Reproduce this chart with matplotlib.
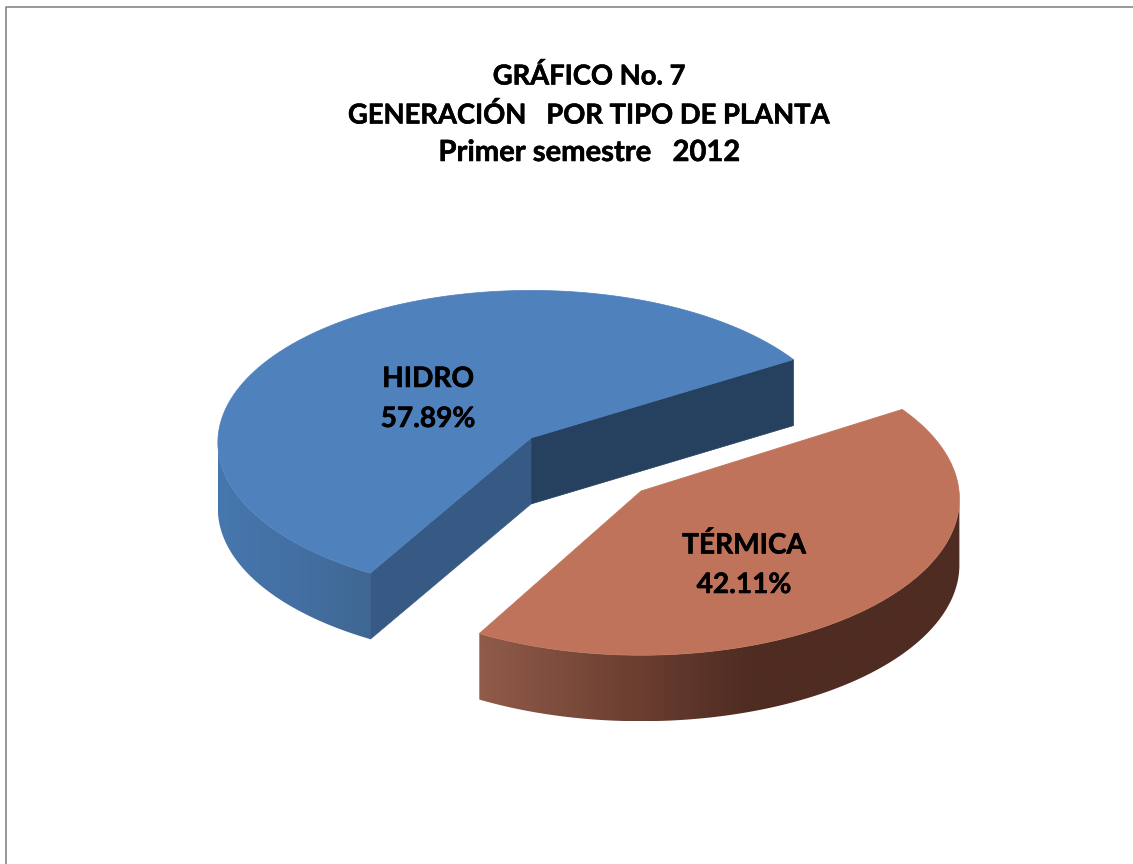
import numpy as np
import matplotlib
matplotlib.use("Agg")
import matplotlib.pyplot as plt
import matplotlib.patheffects as pe
from matplotlib.colors import to_rgb
from matplotlib.patches import Polygon

# datos
categorias = ["HIDRO", "TÉRMICA"]
porcentajes = [57.89, 42.11]
titulo = ["GRÁFICO No. 7", "GENERACIÓN   POR TIPO DE PLANTA", "Primer semestre   2012"]

W, H = 1133, 864
FONT = "Lato"
ALTO = 66
# la perspectiva gira un poco cada porcion
GIRO_AZUL = 31.6
GIRO_ROJO = 32.5


def proyectar(t, cx, cy, a, b, p):
    # elipse con algo de perspectiva: el frente se ve mas grande que el fondo
    u, v = np.cos(t), np.sin(t)
    s = 1 / (1 + p * v)
    return cx + a * u * s, cy - b * v * s


def degradado(ax, xs, ys, stops):
    # pared exterior: imagen con degradado horizontal recortada a la pared
    x0, x1 = xs.min(), xs.max()
    px = np.linspace(x0, x1, 300)
    cols = np.array([to_rgb(s[1]) for s in stops])
    img = np.stack([np.interp(px, [s[0] for s in stops], cols[:, i]) for i in range(3)], axis=1)
    im = ax.imshow(img[None, :, :], extent=(x0, x1, ys.max(), ys.min()), aspect="auto",
                   interpolation="bilinear", zorder=2)
    pol = Polygon(np.c_[xs, ys], transform=ax.transData, fc="none", ec="none")
    ax.add_patch(pol)
    im.set_clip_path(pol)


def porcion(ax, t0, t1, geo, tapa, pared, cara0, cara1):
    cx, cy = geo[0], geo[1]
    t = np.radians(np.linspace(t0, t1, 400))
    x, y = proyectar(t, *geo)

    # la pared va de un punto mas ancho de la elipse hasta el otro
    vis = np.sin(t) <= -geo[4]
    xv, yv = x[vis], y[vis]
    degradado(ax, np.r_[xv, xv[::-1]], np.r_[yv, yv[::-1] + ALTO], pared)

    # caras de corte
    for xe, ye, c in ((x[0], y[0], cara0), (x[-1], y[-1], cara1)):
        if c is None:
            continue
        ax.fill([cx, xe, xe, cx], [cy, ye, ye + ALTO, cy + ALTO], color=c, lw=0.5, zorder=3)

    # tapa superior
    ax.fill(np.r_[cx, x], np.r_[cy, y], color=tapa, lw=0.5, zorder=4)


def texto(ax, x, y, s, size):
    ax.text(x, y, s, ha="center", va="center", fontsize=size, fontweight="bold",
            family=FONT, color="black", zorder=6,
            path_effects=[pe.withStroke(linewidth=0.4, foreground="black")])


fig = plt.figure(figsize=(W / 100, H / 100), dpi=100)
ax = fig.add_axes([0, 0, 1, 1])

# marco del grafico (solo se ve arriba e izquierda)
ax.plot([5.5, 5.5, W], [H, 6.5, 6.5], color="#868686", lw=1.2, zorder=1)

angulo = porcentajes[0] * 3.6
geo_azul = (531, 438, 313, 152, 0.03)
geo_rojo = (641, 491, 318, 156, 0.05)

porcion(ax, GIRO_AZUL, GIRO_AZUL + angulo, geo_azul, "#4f81bd",
        [(218, "#4677ae"), (300, "#436fa2"), (369, "#3f6793")],
        "#264060", "#365a84")
porcion(ax, GIRO_ROJO + angulo, GIRO_ROJO + 360, geo_rojo, "#c0735b",
        [(481, "#905b49"), (620, "#6f4133"), (750, "#4f2c22"), (960, "#4f2c22")],
        None, None)

ax.set_xlim(0, W)
ax.set_ylim(H, 0)
ax.axis("off")

for linea, y, size in zip(titulo, [76, 115, 153], [19.7, 19.7, 21]):
    texto(ax, 589, y, linea, size)

pos_etiquetas = [(428, 379, 419), (744, 545, 585)]
for nombre, valor, (xt, y1, y2) in zip(categorias, porcentajes, pos_etiquetas):
    texto(ax, xt, y1, nombre, 20.2)
    texto(ax, xt, y2, f"{valor:.2f}%", 20.2)

fig.savefig("out.png", dpi=100, facecolor="white")
